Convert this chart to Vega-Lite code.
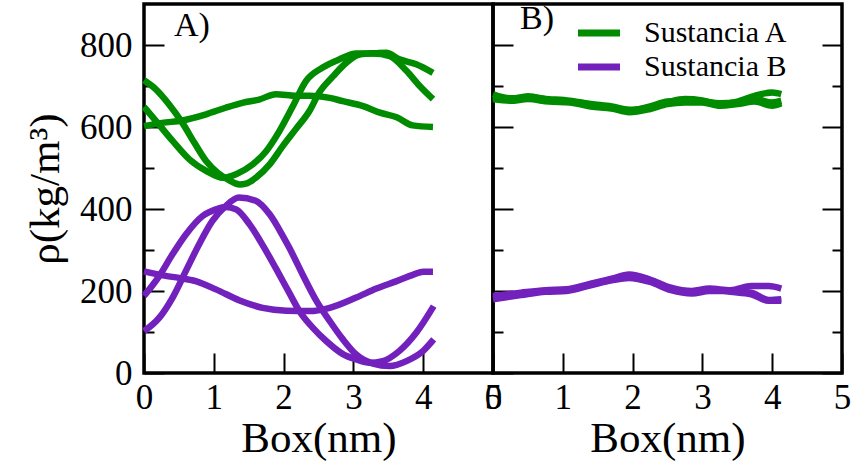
{
  "$schema": "https://vega.github.io/schema/vega-lite/v6.json",
  "background": "white",
  "padding": {"left": 22, "top": 0, "right": 0, "bottom": 0},
  "config": {
    "font": "Liberation Serif",
    "view": {"stroke": "black", "strokeWidth": 3.5},
    "axis": {
      "domain": false, "grid": false, "ticks": true,
      "labelFont": "Liberation Serif", "labelFontSize": 35, "labelColor": "black",
      "titleFont": "Liberation Serif", "titleFontSize": 43, "titleFontWeight": "normal", "titleColor": "black",
      "tickColor": "black", "tickWidth": 2, "tickSize": -20,
      "labelOverlap": false, "labelFlush": false, "labelBound": false
    },
    "title": {"font": "Liberation Serif", "fontSize": 34, "fontWeight": "normal", "color": "black", "anchor": "start", "frame": "group", "baseline": "alphabetic"}
  },
  "datasets": {
    "curves": [
      {"panel":"A","substance":"Sustancia A","run":1,"x":0,"rho":602},{"panel":"A","substance":"Sustancia A","run":1,"x":0.26,"rho":610},{"panel":"A","substance":"Sustancia A","run":1,"x":0.55,"rho":616},{"panel":"A","substance":"Sustancia A","run":1,"x":0.89,"rho":631},{"panel":"A","substance":"Sustancia A","run":1,"x":1.17,"rho":647},{"panel":"A","substance":"Sustancia A","run":1,"x":1.41,"rho":659},{"panel":"A","substance":"Sustancia A","run":1,"x":1.65,"rho":667},{"panel":"A","substance":"Sustancia A","run":1,"x":1.89,"rho":680},{"panel":"A","substance":"Sustancia A","run":1,"x":2.18,"rho":676},{"panel":"A","substance":"Sustancia A","run":1,"x":2.37,"rho":676},{"panel":"A","substance":"Sustancia A","run":1,"x":2.66,"rho":671},{"panel":"A","substance":"Sustancia A","run":1,"x":2.85,"rho":663},{"panel":"A","substance":"Sustancia A","run":1,"x":3.14,"rho":651},{"panel":"A","substance":"Sustancia A","run":1,"x":3.38,"rho":635},{"panel":"A","substance":"Sustancia A","run":1,"x":3.62,"rho":624},{"panel":"A","substance":"Sustancia A","run":1,"x":3.85,"rho":604},{"panel":"A","substance":"Sustancia A","run":1,"x":4.14,"rho":600},
      {"panel":"A","substance":"Sustancia A","run":2,"x":0,"rho":714},{"panel":"A","substance":"Sustancia A","run":2,"x":0.17,"rho":692},{"panel":"A","substance":"Sustancia A","run":2,"x":0.36,"rho":655},{"panel":"A","substance":"Sustancia A","run":2,"x":0.55,"rho":610},{"panel":"A","substance":"Sustancia A","run":2,"x":0.72,"rho":562},{"panel":"A","substance":"Sustancia A","run":2,"x":0.89,"rho":517},{"panel":"A","substance":"Sustancia A","run":2,"x":1.05,"rho":489},{"panel":"A","substance":"Sustancia A","run":2,"x":1.2,"rho":472},{"panel":"A","substance":"Sustancia A","run":2,"x":1.37,"rho":460},{"panel":"A","substance":"Sustancia A","run":2,"x":1.46,"rho":462},{"panel":"A","substance":"Sustancia A","run":2,"x":1.6,"rho":476},{"panel":"A","substance":"Sustancia A","run":2,"x":1.8,"rho":509},{"panel":"A","substance":"Sustancia A","run":2,"x":1.99,"rho":554},{"panel":"A","substance":"Sustancia A","run":2,"x":2.18,"rho":596},{"panel":"A","substance":"Sustancia A","run":2,"x":2.37,"rho":639},{"panel":"A","substance":"Sustancia A","run":2,"x":2.51,"rho":684},{"panel":"A","substance":"Sustancia A","run":2,"x":2.71,"rho":724},{"panel":"A","substance":"Sustancia A","run":2,"x":2.9,"rho":757},{"panel":"A","substance":"Sustancia A","run":2,"x":3.09,"rho":777},{"panel":"A","substance":"Sustancia A","run":2,"x":3.33,"rho":780},{"panel":"A","substance":"Sustancia A","run":2,"x":3.47,"rho":781},{"panel":"A","substance":"Sustancia A","run":2,"x":3.66,"rho":765},{"panel":"A","substance":"Sustancia A","run":2,"x":3.9,"rho":753},{"panel":"A","substance":"Sustancia A","run":2,"x":4.14,"rho":732},
      {"panel":"A","substance":"Sustancia A","run":3,"x":0,"rho":649},{"panel":"A","substance":"Sustancia A","run":3,"x":0.17,"rho":615},{"panel":"A","substance":"Sustancia A","run":3,"x":0.41,"rho":566},{"panel":"A","substance":"Sustancia A","run":3,"x":0.65,"rho":521},{"panel":"A","substance":"Sustancia A","run":3,"x":0.89,"rho":493},{"panel":"A","substance":"Sustancia A","run":3,"x":1.13,"rho":476},{"panel":"A","substance":"Sustancia A","run":3,"x":1.32,"rho":485},{"panel":"A","substance":"Sustancia A","run":3,"x":1.56,"rho":509},{"panel":"A","substance":"Sustancia A","run":3,"x":1.75,"rho":541},{"panel":"A","substance":"Sustancia A","run":3,"x":1.94,"rho":590},{"panel":"A","substance":"Sustancia A","run":3,"x":2.13,"rho":650},{"panel":"A","substance":"Sustancia A","run":3,"x":2.32,"rho":712},{"panel":"A","substance":"Sustancia A","run":3,"x":2.56,"rho":745},{"panel":"A","substance":"Sustancia A","run":3,"x":2.8,"rho":765},{"panel":"A","substance":"Sustancia A","run":3,"x":3.04,"rho":779},{"panel":"A","substance":"Sustancia A","run":3,"x":3.28,"rho":779},{"panel":"A","substance":"Sustancia A","run":3,"x":3.52,"rho":773},{"panel":"A","substance":"Sustancia A","run":3,"x":3.76,"rho":737},{"panel":"A","substance":"Sustancia A","run":3,"x":3.95,"rho":700},{"panel":"A","substance":"Sustancia A","run":3,"x":4.14,"rho":668},
      {"panel":"A","substance":"Sustancia B","run":1,"x":0,"rho":248},{"panel":"A","substance":"Sustancia B","run":1,"x":0.31,"rho":237},{"panel":"A","substance":"Sustancia B","run":1,"x":0.5,"rho":232},{"panel":"A","substance":"Sustancia B","run":1,"x":0.74,"rho":224},{"panel":"A","substance":"Sustancia B","run":1,"x":1.03,"rho":204},{"panel":"A","substance":"Sustancia B","run":1,"x":1.37,"rho":177},{"panel":"A","substance":"Sustancia B","run":1,"x":1.7,"rho":159},{"panel":"A","substance":"Sustancia B","run":1,"x":2.04,"rho":152},{"panel":"A","substance":"Sustancia B","run":1,"x":2.37,"rho":151},{"panel":"A","substance":"Sustancia B","run":1,"x":2.66,"rho":159},{"panel":"A","substance":"Sustancia B","run":1,"x":3.04,"rho":184},{"panel":"A","substance":"Sustancia B","run":1,"x":3.33,"rho":206},{"panel":"A","substance":"Sustancia B","run":1,"x":3.62,"rho":224},{"panel":"A","substance":"Sustancia B","run":1,"x":3.86,"rho":240},{"panel":"A","substance":"Sustancia B","run":1,"x":4.0,"rho":247},{"panel":"A","substance":"Sustancia B","run":1,"x":4.14,"rho":247},
      {"panel":"A","substance":"Sustancia B","run":2,"x":0,"rho":188},{"panel":"A","substance":"Sustancia B","run":2,"x":0.22,"rho":237},{"panel":"A","substance":"Sustancia B","run":2,"x":0.41,"rho":290},{"panel":"A","substance":"Sustancia B","run":2,"x":0.6,"rho":338},{"panel":"A","substance":"Sustancia B","run":2,"x":0.84,"rho":383},{"panel":"A","substance":"Sustancia B","run":2,"x":1.03,"rho":399},{"panel":"A","substance":"Sustancia B","run":2,"x":1.17,"rho":405},{"panel":"A","substance":"Sustancia B","run":2,"x":1.32,"rho":399},{"panel":"A","substance":"Sustancia B","run":2,"x":1.51,"rho":363},{"panel":"A","substance":"Sustancia B","run":2,"x":1.7,"rho":312},{"panel":"A","substance":"Sustancia B","run":2,"x":1.89,"rho":255},{"panel":"A","substance":"Sustancia B","run":2,"x":2.08,"rho":196},{"panel":"A","substance":"Sustancia B","run":2,"x":2.23,"rho":150},{"panel":"A","substance":"Sustancia B","run":2,"x":2.42,"rho":110},{"panel":"A","substance":"Sustancia B","run":2,"x":2.61,"rho":78},{"panel":"A","substance":"Sustancia B","run":2,"x":2.85,"rho":46},{"panel":"A","substance":"Sustancia B","run":2,"x":3.04,"rho":33},{"panel":"A","substance":"Sustancia B","run":2,"x":3.23,"rho":25},{"panel":"A","substance":"Sustancia B","run":2,"x":3.42,"rho":29},{"panel":"A","substance":"Sustancia B","run":2,"x":3.66,"rho":54},{"panel":"A","substance":"Sustancia B","run":2,"x":3.9,"rho":98},{"panel":"A","substance":"Sustancia B","run":2,"x":4.15,"rho":163},
      {"panel":"A","substance":"Sustancia B","run":3,"x":0,"rho":102},{"panel":"A","substance":"Sustancia B","run":3,"x":0.22,"rho":135},{"panel":"A","substance":"Sustancia B","run":3,"x":0.41,"rho":184},{"panel":"A","substance":"Sustancia B","run":3,"x":0.6,"rho":249},{"panel":"A","substance":"Sustancia B","run":3,"x":0.79,"rho":314},{"panel":"A","substance":"Sustancia B","run":3,"x":0.98,"rho":371},{"panel":"A","substance":"Sustancia B","run":3,"x":1.17,"rho":407},{"panel":"A","substance":"Sustancia B","run":3,"x":1.36,"rho":428},{"panel":"A","substance":"Sustancia B","run":3,"x":1.6,"rho":420},{"panel":"A","substance":"Sustancia B","run":3,"x":1.8,"rho":387},{"panel":"A","substance":"Sustancia B","run":3,"x":1.99,"rho":334},{"panel":"A","substance":"Sustancia B","run":3,"x":2.08,"rho":306},{"panel":"A","substance":"Sustancia B","run":3,"x":2.27,"rho":241},{"panel":"A","substance":"Sustancia B","run":3,"x":2.47,"rho":176},{"panel":"A","substance":"Sustancia B","run":3,"x":2.66,"rho":127},{"panel":"A","substance":"Sustancia B","run":3,"x":2.85,"rho":82},{"panel":"A","substance":"Sustancia B","run":3,"x":3.04,"rho":45},{"panel":"A","substance":"Sustancia B","run":3,"x":3.28,"rho":23},{"panel":"A","substance":"Sustancia B","run":3,"x":3.52,"rho":17},{"panel":"A","substance":"Sustancia B","run":3,"x":3.76,"rho":29},{"panel":"A","substance":"Sustancia B","run":3,"x":4.0,"rho":54},{"panel":"A","substance":"Sustancia B","run":3,"x":4.15,"rho":82},
      {"panel":"B","substance":"Sustancia A","run":1,"x":0,"rho":680},{"panel":"B","substance":"Sustancia A","run":1,"x":0.25,"rho":670},{"panel":"B","substance":"Sustancia A","run":1,"x":0.5,"rho":672},{"panel":"B","substance":"Sustancia A","run":1,"x":0.8,"rho":668},{"panel":"B","substance":"Sustancia A","run":1,"x":1.1,"rho":664},{"panel":"B","substance":"Sustancia A","run":1,"x":1.4,"rho":656},{"panel":"B","substance":"Sustancia A","run":1,"x":1.7,"rho":650},{"panel":"B","substance":"Sustancia A","run":1,"x":1.95,"rho":642},{"panel":"B","substance":"Sustancia A","run":1,"x":2.25,"rho":648},{"panel":"B","substance":"Sustancia A","run":1,"x":2.5,"rho":660},{"panel":"B","substance":"Sustancia A","run":1,"x":2.75,"rho":668},{"panel":"B","substance":"Sustancia A","run":1,"x":3.0,"rho":665},{"panel":"B","substance":"Sustancia A","run":1,"x":3.25,"rho":656},{"panel":"B","substance":"Sustancia A","run":1,"x":3.5,"rho":662},{"panel":"B","substance":"Sustancia A","run":1,"x":3.75,"rho":676},{"panel":"B","substance":"Sustancia A","run":1,"x":4.0,"rho":684},{"panel":"B","substance":"Sustancia A","run":1,"x":4.13,"rho":680},
      {"panel":"B","substance":"Sustancia A","run":2,"x":0,"rho":668},{"panel":"B","substance":"Sustancia A","run":2,"x":0.25,"rho":664},{"panel":"B","substance":"Sustancia A","run":2,"x":0.5,"rho":668},{"panel":"B","substance":"Sustancia A","run":2,"x":0.8,"rho":662},{"panel":"B","substance":"Sustancia A","run":2,"x":1.1,"rho":660},{"panel":"B","substance":"Sustancia A","run":2,"x":1.4,"rho":650},{"panel":"B","substance":"Sustancia A","run":2,"x":1.7,"rho":645},{"panel":"B","substance":"Sustancia A","run":2,"x":1.95,"rho":636},{"panel":"B","substance":"Sustancia A","run":2,"x":2.25,"rho":644},{"panel":"B","substance":"Sustancia A","run":2,"x":2.5,"rho":656},{"panel":"B","substance":"Sustancia A","run":2,"x":2.75,"rho":660},{"panel":"B","substance":"Sustancia A","run":2,"x":3.0,"rho":660},{"panel":"B","substance":"Sustancia A","run":2,"x":3.25,"rho":652},{"panel":"B","substance":"Sustancia A","run":2,"x":3.5,"rho":656},{"panel":"B","substance":"Sustancia A","run":2,"x":3.75,"rho":662},{"panel":"B","substance":"Sustancia A","run":2,"x":4.0,"rho":652},{"panel":"B","substance":"Sustancia A","run":2,"x":4.13,"rho":658},
      {"panel":"B","substance":"Sustancia A","run":3,"x":0,"rho":674},{"panel":"B","substance":"Sustancia A","run":3,"x":0.25,"rho":668},{"panel":"B","substance":"Sustancia A","run":3,"x":0.5,"rho":675},{"panel":"B","substance":"Sustancia A","run":3,"x":0.8,"rho":666},{"panel":"B","substance":"Sustancia A","run":3,"x":1.1,"rho":662},{"panel":"B","substance":"Sustancia A","run":3,"x":1.4,"rho":655},{"panel":"B","substance":"Sustancia A","run":3,"x":1.7,"rho":646},{"panel":"B","substance":"Sustancia A","run":3,"x":1.95,"rho":640},{"panel":"B","substance":"Sustancia A","run":3,"x":2.25,"rho":650},{"panel":"B","substance":"Sustancia A","run":3,"x":2.5,"rho":662},{"panel":"B","substance":"Sustancia A","run":3,"x":2.75,"rho":664},{"panel":"B","substance":"Sustancia A","run":3,"x":3.0,"rho":662},{"panel":"B","substance":"Sustancia A","run":3,"x":3.25,"rho":658},{"panel":"B","substance":"Sustancia A","run":3,"x":3.5,"rho":660},{"panel":"B","substance":"Sustancia A","run":3,"x":3.75,"rho":668},{"panel":"B","substance":"Sustancia A","run":3,"x":4.0,"rho":660},{"panel":"B","substance":"Sustancia A","run":3,"x":4.13,"rho":664},
      {"panel":"B","substance":"Sustancia B","run":1,"x":0,"rho":188},{"panel":"B","substance":"Sustancia B","run":1,"x":0.4,"rho":196},{"panel":"B","substance":"Sustancia B","run":1,"x":0.75,"rho":202},{"panel":"B","substance":"Sustancia B","run":1,"x":1.05,"rho":204},{"panel":"B","substance":"Sustancia B","run":1,"x":1.4,"rho":218},{"panel":"B","substance":"Sustancia B","run":1,"x":1.7,"rho":230},{"panel":"B","substance":"Sustancia B","run":1,"x":1.95,"rho":240},{"panel":"B","substance":"Sustancia B","run":1,"x":2.25,"rho":228},{"panel":"B","substance":"Sustancia B","run":1,"x":2.55,"rho":208},{"panel":"B","substance":"Sustancia B","run":1,"x":2.85,"rho":200},{"panel":"B","substance":"Sustancia B","run":1,"x":3.1,"rho":206},{"panel":"B","substance":"Sustancia B","run":1,"x":3.4,"rho":202},{"panel":"B","substance":"Sustancia B","run":1,"x":3.7,"rho":212},{"panel":"B","substance":"Sustancia B","run":1,"x":3.95,"rho":212},{"panel":"B","substance":"Sustancia B","run":1,"x":4.13,"rho":206},
      {"panel":"B","substance":"Sustancia B","run":2,"x":0,"rho":180},{"panel":"B","substance":"Sustancia B","run":2,"x":0.4,"rho":190},{"panel":"B","substance":"Sustancia B","run":2,"x":0.75,"rho":198},{"panel":"B","substance":"Sustancia B","run":2,"x":1.05,"rho":200},{"panel":"B","substance":"Sustancia B","run":2,"x":1.4,"rho":214},{"panel":"B","substance":"Sustancia B","run":2,"x":1.7,"rho":226},{"panel":"B","substance":"Sustancia B","run":2,"x":1.95,"rho":232},{"panel":"B","substance":"Sustancia B","run":2,"x":2.25,"rho":222},{"panel":"B","substance":"Sustancia B","run":2,"x":2.55,"rho":202},{"panel":"B","substance":"Sustancia B","run":2,"x":2.85,"rho":194},{"panel":"B","substance":"Sustancia B","run":2,"x":3.1,"rho":200},{"panel":"B","substance":"Sustancia B","run":2,"x":3.4,"rho":200},{"panel":"B","substance":"Sustancia B","run":2,"x":3.7,"rho":196},{"panel":"B","substance":"Sustancia B","run":2,"x":3.95,"rho":178},{"panel":"B","substance":"Sustancia B","run":2,"x":4.13,"rho":180},
      {"panel":"B","substance":"Sustancia B","run":3,"x":0,"rho":184},{"panel":"B","substance":"Sustancia B","run":3,"x":0.4,"rho":192},{"panel":"B","substance":"Sustancia B","run":3,"x":0.75,"rho":200},{"panel":"B","substance":"Sustancia B","run":3,"x":1.05,"rho":202},{"panel":"B","substance":"Sustancia B","run":3,"x":1.4,"rho":216},{"panel":"B","substance":"Sustancia B","run":3,"x":1.7,"rho":228},{"panel":"B","substance":"Sustancia B","run":3,"x":1.95,"rho":236},{"panel":"B","substance":"Sustancia B","run":3,"x":2.25,"rho":224},{"panel":"B","substance":"Sustancia B","run":3,"x":2.55,"rho":205},{"panel":"B","substance":"Sustancia B","run":3,"x":2.85,"rho":197},{"panel":"B","substance":"Sustancia B","run":3,"x":3.1,"rho":204},{"panel":"B","substance":"Sustancia B","run":3,"x":3.4,"rho":198},{"panel":"B","substance":"Sustancia B","run":3,"x":3.7,"rho":192},{"panel":"B","substance":"Sustancia B","run":3,"x":3.95,"rho":176},{"panel":"B","substance":"Sustancia B","run":3,"x":4.13,"rho":176}
    ]
  },
  "spacing": 0,
  "bounds": "flush",
  "hconcat": [
    {
      "width": 349, "height": 369,
      "title": {"text": "A)", "offset": -39, "dx": 30},
      "data": {"name": "curves"},
      "transform": [{"filter": "datum.panel === 'A'"}],
      "mark": {"type": "line", "strokeWidth": 6.5, "strokeJoin": "round", "interpolate": "monotone"},
      "encoding": {
        "x": {"field": "x", "type": "quantitative", "scale": {"domain": [0, 5], "nice": false},
          "axis": {"values": [0,0.5,1,1.5,2,2.5,3,3.5,4,4.5,5], "format": "d",
            "tickDash": {"condition": {"test": "datum.value % 1 === 0", "value": []}, "value": [10, 100]},
            "labelExpr": "datum.value % 1 === 0 ? datum.label : ''",
            "labelPadding": 27, "title": "Box(nm)", "titleY": 78, "titleBaseline": "alphabetic"}},
        "y": {"field": "rho", "type": "quantitative", "scale": {"domain": [0, 900], "nice": false},
          "axis": {"values": [0,100,200,300,400,500,600,700,800], "format": "d",
            "tickDash": {"condition": {"test": "datum.value % 200 === 0", "value": []}, "value": [10, 100]},
            "labelExpr": "datum.value % 200 === 0 ? datum.label : ''",
            "labelPadding": 32, "title": "ρ(kg/m³)", "titleX": -86, "titleAngle": -90, "titleBaseline": "alphabetic"}},
        "color": {"field": "substance", "type": "nominal",
          "scale": {"domain": ["Sustancia A", "Sustancia B"], "range": ["#008B00", "#7221BC"]},
          "legend": {"orient": "none", "legendX": 440, "legendY": 14, "title": null, "symbolType": "M-2,0H2",
            "symbolSize": 441, "symbolStrokeWidth": 7, "labelFont": "Liberation Serif", "labelFontSize": 30,
            "labelColor": "black", "labelOffset": 30, "rowPadding": 4}},
        "detail": {"field": "run"}
      }
    },
    {
      "width": 349, "height": 369,
      "title": {"text": "B)", "offset": -32, "dx": 27},
      "data": {"name": "curves"},
      "transform": [{"filter": "datum.panel === 'B'"}],
      "layer": [
        {
          "transform": [{"filter": "datum.substance === 'Sustancia A'"}],
          "mark": {"type": "line", "strokeWidth": 6.5, "strokeJoin": "round", "interpolate": "monotone"},
          "encoding": {
            "x": {"field": "x", "type": "quantitative", "scale": {"domain": [0, 5], "nice": false},
              "axis": {"values": [0,0.5,1,1.5,2,2.5,3,3.5,4,4.5,5], "format": "d",
                "tickDash": {"condition": {"test": "datum.value % 1 === 0", "value": []}, "value": [10, 100]},
                "labelExpr": "datum.value % 1 === 0 ? datum.label : ''",
                "labelPadding": 27, "title": "Box(nm)", "titleY": 78, "titleBaseline": "alphabetic"}},
            "y": {"field": "rho", "type": "quantitative", "scale": {"domain": [0, 900], "nice": false},
              "axis": {"orient": "left", "values": [0,100,200,300,400,500,600,700,800],
                "tickDash": {"condition": {"test": "datum.value % 200 === 0", "value": []}, "value": [10, 100]},
                "labels": false, "title": null}},
            "color": {"field": "substance", "type": "nominal",
              "scale": {"domain": ["Sustancia A", "Sustancia B"], "range": ["#008B00", "#7221BC"]}},
            "detail": {"field": "run"}
          }
        },
        {
          "transform": [{"filter": "datum.substance === 'Sustancia B'"}],
          "mark": {"type": "line", "strokeWidth": 6.5, "strokeJoin": "round", "interpolate": "monotone"},
          "encoding": {
            "x": {"field": "x", "type": "quantitative"},
            "y": {"field": "rho", "type": "quantitative", "scale": {"domain": [0, 900], "nice": false},
              "axis": {"orient": "right", "values": [0,100,200,300,400,500,600,700,800],
                "tickDash": {"condition": {"test": "datum.value % 200 === 0", "value": []}, "value": [10, 100]},
                "labels": false, "title": null}},
            "color": {"field": "substance", "type": "nominal",
              "scale": {"domain": ["Sustancia A", "Sustancia B"], "range": ["#008B00", "#7221BC"]}},
            "detail": {"field": "run"}
          }
        }
      ],
      "resolve": {"axis": {"y": "independent"}}
    }
  ]
}
